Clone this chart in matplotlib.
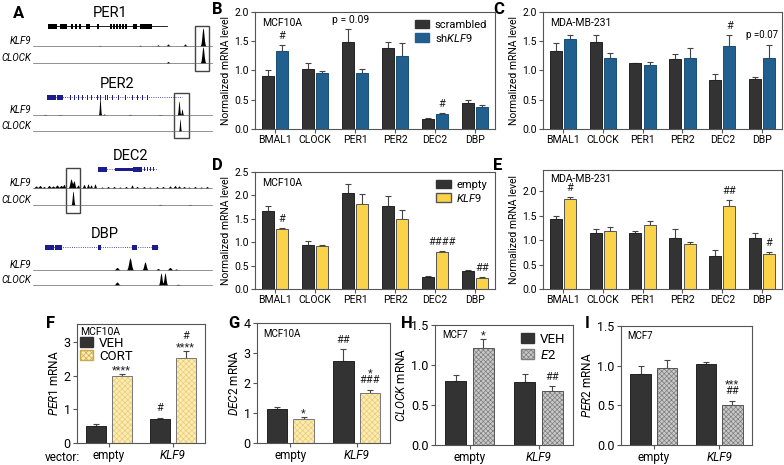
#!/usr/bin/python
# KLF9 / clock gene figure: ChIP tracks + qPCR bar panels

import matplotlib
matplotlib.use('Agg')
import matplotlib.pyplot as plt
from matplotlib.patches import Patch, Rectangle
import numpy as np

plt.rcParams['font.family'] = ['Roboto', 'DejaVu Sans']
plt.rcParams['mathtext.fontset'] = 'custom'
plt.rcParams['mathtext.rm'] = 'Roboto'
plt.rcParams['mathtext.it'] = 'Roboto:italic'
plt.rcParams['hatch.linewidth'] = 0.5

# ---------------------------------------------------------
# data
genes = ['BMAL1', 'CLOCK', 'PER1', 'PER2', 'DEC2', 'DBP']

# B: MCF10A scrambled vs shKLF9
b_scr = [0.91, 1.02, 1.48, 1.39, 0.17, 0.44]
b_scr_err = [0.09, 0.10, 0.23, 0.09, 0.02, 0.06]
b_sh = [1.34, 0.95, 0.95, 1.25, 0.25, 0.37]
b_sh_err = [0.09, 0.04, 0.08, 0.22, 0.02, 0.04]
b_marks = ['#', '', '', '', '#', '']

# C: MDA-MB-231 scrambled vs shKLF9
c_scr = [1.34, 1.48, 1.12, 1.20, 0.83, 0.85]
c_scr_err = [0.13, 0.12, 0.01, 0.09, 0.11, 0.04]
c_sh = [1.53, 1.22, 1.10, 1.22, 1.42, 1.22]
c_sh_err = [0.08, 0.08, 0.04, 0.17, 0.19, 0.21]
c_marks = ['', '', '', '', '#', '']

# D: MCF10A empty vs KLF9
d_emp = [1.66, 0.94, 2.05, 1.78, 0.26, 0.38]
d_emp_err = [0.11, 0.09, 0.19, 0.20, 0.02, 0.02]
d_klf = [1.28, 0.91, 1.82, 1.49, 0.78, 0.23]
d_klf_err = [0.02, 0.02, 0.22, 0.19, 0.03, 0.02]
d_marks = ['#', '', '', '', '####', '##']

# E: MDA-MB-231 empty vs KLF9
e_emp = [1.42, 1.15, 1.14, 1.05, 0.68, 1.05]
e_emp_err = [0.08, 0.08, 0.05, 0.17, 0.12, 0.09]
e_klf = [1.83, 1.18, 1.31, 0.91, 1.70, 0.71]
e_klf_err = [0.04, 0.09, 0.08, 0.05, 0.12, 0.05]
e_marks = ['#', '', '', '', '##', '#']

vectors = ['empty', 'KLF9']

# F: PER1 mRNA, VEH vs CORT
f_veh = [0.50, 0.72]
f_veh_err = [0.08, 0.04]
f_cort = [2.00, 2.55]
f_cort_err = [0.05, 0.20]
f_veh_marks = ['', '#']
f_cort_marks = ['****', '#\n****']

# G: DEC2 mRNA, VEH vs CORT
g_veh = [1.13, 2.73]
g_veh_err = [0.07, 0.40]
g_cort = [0.80, 1.68]
g_cort_err = [0.06, 0.10]
g_veh_marks = ['', '##']
g_cort_marks = ['*', '*\n###']

# H: CLOCK mRNA, VEH vs E2
h_veh = [0.80, 0.79]
h_veh_err = [0.07, 0.10]
h_e2 = [1.21, 0.68]
h_e2_err = [0.12, 0.06]
h_veh_marks = ['', '']
h_e2_marks = ['*', '##']

# I: PER2 mRNA, VEH vs E2
i_veh = [0.90, 1.02]
i_veh_err = [0.09, 0.03]
i_e2 = [0.97, 0.50]
i_e2_err = [0.10, 0.06]
i_veh_marks = ['', '']
i_e2_marks = ['', '***\n##']

# A: genome tracks (track units along the locus)
track_start, track_end = 33, 212
per1_exons = [(60, 67), (71, 73), (75, 77), (79, 81), (86, 90), (97, 99), (110, 112), (113, 115), (116, 118),
              (119, 121), (122, 124), (125, 127), (133, 137), (140, 152)]
per1_span = (48, 167)
per1_klf9 = [(100, 0.6, 1), (140, 0.8, 1), (158, 1.2, 1), (168, 2.0, 1.2), (185, 2.0, 1.2), (203, 18, 1.4)]
per1_clock = [(168, 1.5, 1.2), (203, 16, 1.4)]

per2_exons = [(57, 63), (70, 71), (74, 75), (78, 79), (82, 83), (87, 88), (91, 92), (97, 98), (100, 101),
              (105, 106), (107, 108), (112, 113), (118, 119), (125, 126), (132, 133), (137, 138), (142, 143), (147, 148)]
per2_span = (47, 182)
per2_klf9 = [(45, 0.6, 1.5), (60, 0.5, 1.5), (100, 17, 0.8), (104, 1.0, 1), (130, 0.6, 1.5), (160, 0.5, 1.5),
             (179, 14, 0.9), (182, 6, 0.8)]
per2_clock = [(180, 12, 0.7)]

dec2_exons = [(115, 133, 3), (133, 142, 5), (144, 145, 4), (147, 148, 4), (150, 151, 4), (153, 154, 4)]
dec2_span = (98, 157)
dec2_klf9 = [(36, 2.0, 1.5), (40, 2.5, 1.5), (44, 1.5, 1.2), (49, 2.5, 1.5), (53, 2.0, 1.5), (57, 3.0, 1.5),
             (61, 2.5, 1.5), (64, 3.5, 1.2), (71, 9.0, 1.5), (74, 7.0, 1.2), (78, 3.0, 1.2), (84, 3.5, 1.2),
             (88, 4.0, 1.0), (91, 3.0, 1.0), (95, 4.0, 1.0), (102, 1.0, 1.2), (108, 1.5, 1.2), (114, 1.5, 1.2),
             (120, 1.0, 1.2), (126, 1.5, 1.2), (132, 3.0, 1.0), (137, 1.5, 1.2), (144, 1.5, 1.2), (150, 1.0, 1.2),
             (157, 1.5, 1.2), (163, 1.5, 1.2), (170, 2.0, 1.2), (175, 2.5, 1.2), (179, 2.0, 1.2), (184, 1.5, 1.2),
             (189, 1.0, 1.2), (195, 1.5, 1.2), (201, 1.0, 1.2), (207, 1.5, 1.2)]
dec2_clock = [(73, 14, 1.0), (160, 0.6, 1.5), (190, 0.6, 1.5)]

dbp_exons = [(55, 62), (98, 101), (132, 137), (152, 158)]
dbp_span = (45, 158)
dbp_klf9 = [(117, 2.5, 1.8), (130, 12, 1.8), (145, 8, 1.6), (158, 1.5, 1.5), (170, 2.5, 1.8), (176, 1.0, 1.5)]
dbp_clock = [(117, 3.0, 1.8), (161, 12, 1.3), (165, 12, 1.3), (178, 0.8, 1.5)]

# ---------------------------------------------------------
dark = '#333333'
blue = '#205f8e'
yellow = '#fbd349'
pale = '#fcecb4'
pale_hatch = '#e9cb74'
gray = '#c9c9c9'
gray_hatch = '#7d7d7d'
ink = '#444444'

W, H = 784, 465
fig = plt.figure(figsize=(W / 100, H / 100), dpi=100)


def px_axes(l, t, r, b):
    return fig.add_axes([l / W, 1 - b / H, (r - l) / W, (b - t) / H])


def letter(x, y, s):
    fig.text(x / W, 1 - y / H, s, fontsize=12, fontweight='bold', va='top', ha='left')


def style(ax, ylim, yticks, fmt, labelsize=7.5):
    ax.set_ylim(ylim)
    ax.set_yticks(yticks)
    ax.set_yticklabels([fmt % t for t in yticks])
    for s in ax.spines.values():
        s.set_color('#555555')
        s.set_linewidth(0.8)
    ax.tick_params(direction='out', length=3, width=0.8, color='#555555', labelsize=labelsize, pad=1.5)


def bars(ax, v1, e1, v2, e2, st1, st2, off, width):
    x = np.arange(len(v1))
    for xs, v, e, st in ((x - off, v1, e1, st1), (x + off, v2, e2, st2)):
        ax.errorbar(xs, v, yerr=[np.zeros(len(v)), e], fmt='none', ecolor=ink, elinewidth=0.8,
                    capsize=2.5, capthick=0.8, zorder=1)
        if 'hatch' in st:
            ax.bar(xs, v, width, color=st['face'], edgecolor=st['hc'], hatch=st['hatch'], linewidth=0, zorder=2)
            ax.bar(xs, v, width, fill=False, edgecolor=st['edge'], linewidth=0.7, zorder=3)
        else:
            ax.bar(xs, v, width, color=st['face'], edgecolor=st['edge'], linewidth=0.7, zorder=2)
    ax.set_xlim(-0.5, len(v1) - 0.5)
    ax.set_xticks(x)


def marks(ax, xs, v, e, labels, size=8):
    # significance symbols above the error bar (one text, lines stacked)
    for xi, vi, ei, lab in zip(xs, v, e, labels):
        if not lab:
            continue
        lines = lab.split('\n')
        low_star = lines[-1].startswith('*')
        base = -1.0 if low_star else 3.0
        ls = 1.0
        if len(lines) > 1:
            step = 8.0 + (2.5 if low_star else 0) - (2.5 if lines[0].startswith('*') else 0)
            ls = step / (1.09 * size)
        ax.annotate(lab, (xi, vi + ei), xytext=(0, base), textcoords='offset points',
                    ha='center', va='bottom', fontsize=size, linespacing=ls, color='#222222')


s_dark = {'face': dark, 'edge': '#222222'}
s_blue = {'face': blue, 'edge': '#1a4e75'}
s_yel = {'face': yellow, 'edge': '#555555'}
s_pale = {'face': pale, 'hc': pale_hatch, 'hatch': 'xxxxxx', 'edge': '#777777'}
s_gray = {'face': gray, 'hc': gray_hatch, 'hatch': 'xxxxxxx', 'edge': '#555555'}

# ---------------------------------------------------------
# A: genome browser tracks
axA = px_axes(0, 0, 215, 300)
axA.set_xlim(0, 215)
axA.set_ylim(300, 0)
axA.axis('off')
xs = np.linspace(track_start, track_end, 900)


def signal(peaks):
    sig = np.zeros_like(xs)
    for p, h, w in peaks:
        sig += h * np.exp(-((xs - p) / w) ** 2)
    return sig


def track(y, name, peaks):
    axA.plot([track_start, track_end], [y, y], color='#666666', lw=0.5)
    axA.fill_between(xs, y, y - signal(peaks), color='black', lw=0)
    axA.text(31, y, name, ha='right', va='bottom', fontsize=7, style='italic')


def gene(y, name, span, exons, color, dotted):
    axA.text((span[0] + span[1]) / 2 + 3, y - 6, name, ha='center', va='bottom', fontsize=10.5)
    axA.plot(span, [y, y], color=color, lw=0.6, ls=':' if dotted else '-')
    axA.add_patch(Rectangle((span[0], y - 2.5), 9, 5, color=color, lw=0))
    for ex in exons:
        h = ex[2] if len(ex) > 2 else 5
        axA.add_patch(Rectangle((ex[0], y - h / 2), ex[1] - ex[0], h, color=color, lw=0))


gene(26, 'PER1', per1_span, per1_exons, 'black', False)
track(46, 'KLF9', per1_klf9)
track(63, 'CLOCK', per1_clock)
axA.add_patch(Rectangle((195, 26), 14, 45, fill=False, ec='#444444', lw=1))

gene(97, 'PER2', per2_span, per2_exons, '#1c1c8c', True)
track(115, 'KLF9', per2_klf9)
track(131, 'CLOCK', per2_clock)
axA.add_patch(Rectangle((174, 93), 15, 45, fill=False, ec='#444444', lw=1))

gene(169, 'DEC2', dec2_span, dec2_exons, '#1c1c8c', True)
track(188, 'KLF9', dec2_klf9)
track(205, 'CLOCK', dec2_clock)
axA.add_patch(Rectangle((66, 168), 14, 45, fill=False, ec='#444444', lw=1))

gene(247, 'DBP', dbp_span, dbp_exons, '#1c1c8c', True)
track(270, 'KLF9', dbp_klf9)
track(285, 'CLOCK', dbp_clock)

# ---------------------------------------------------------
# B-E: grouped panels
x6 = np.arange(len(genes))
off6, w6 = 0.18, 0.30

axB = px_axes(255, 12, 495, 129)
bars(axB, b_scr, b_scr_err, b_sh, b_sh_err, s_dark, s_blue, off6, w6)
style(axB, (0, 2.0), [0, 0.5, 1.0, 1.5, 2.0], '%.1f')
marks(axB, x6 + off6, b_sh, b_sh_err, b_marks)
axB.text(2 - 0.12, 1.77, 'p = 0.09', ha='center', va='bottom', fontsize=7.5)
axB.text(0.03, 0.95, 'MCF10A', transform=axB.transAxes, ha='left', va='top', fontsize=7.5)
axB.legend([Patch(facecolor=dark, edgecolor=dark), Patch(facecolor=blue, edgecolor=blue)],
           ['scrambled', r'sh$\mathit{KLF9}$'], loc='upper right', frameon=False, fontsize=8,
           handlelength=1.3, handleheight=0.8, labelspacing=0.15, handletextpad=0.5, borderaxespad=0.3)

axC = px_axes(543, 12, 782, 129)
bars(axC, c_scr, c_scr_err, c_sh, c_sh_err, s_dark, s_blue, off6, w6)
style(axC, (0, 2.0), [0, 0.5, 1.0, 1.5, 2.0], '%.1f')
marks(axC, x6 + off6, c_sh, c_sh_err, c_marks)
axC.text(5.0, 1.52, 'p =0.07', ha='center', va='bottom', fontsize=7)
axC.text(0.03, 0.95, 'MDA-MB-231', transform=axC.transAxes, ha='left', va='top', fontsize=7.5)

axD = px_axes(255, 172, 495, 289)
bars(axD, d_emp, d_emp_err, d_klf, d_klf_err, s_dark, s_yel, off6, w6)
style(axD, (0, 2.5), [0, 0.5, 1.0, 1.5, 2.0, 2.5], '%.1f')
marks(axD, x6 + off6, d_klf, d_klf_err, d_marks)
axD.text(0.03, 0.95, 'MCF10A', transform=axD.transAxes, ha='left', va='top', fontsize=7.5)
axD.legend([Patch(facecolor=dark, edgecolor=dark), Patch(facecolor=yellow, edgecolor='#555555')],
           ['empty', r'$\mathit{KLF9}$'], loc='upper right', frameon=False, fontsize=8,
           handlelength=1.3, handleheight=0.8, labelspacing=0.15, handletextpad=0.5, borderaxespad=0.3)

axE = px_axes(543, 170, 782, 289)
bars(axE, e_emp, e_emp_err, e_klf, e_klf_err, s_dark, s_yel, off6, w6)
style(axE, (0, 2.43), [0, 0.5, 1.0, 1.5, 2.0], '%.1f')
marks(axE, x6 + off6, e_klf, e_klf_err, e_marks)
axE.text(0.03, 0.97, 'MDA-MB-231', transform=axE.transAxes, ha='left', va='top', fontsize=7.5)

for ax in (axB, axC, axD, axE):
    ax.set_xticklabels(genes, fontsize=7.5)
    ax.set_ylabel('Normalized mRNA level', fontsize=7.5, labelpad=2)

# ---------------------------------------------------------
# F-I: two-group panels
x2 = np.arange(len(vectors))
off2, w2 = 0.2, 0.31

axF = px_axes(77, 324, 205, 443)
bars(axF, f_veh, f_veh_err, f_cort, f_cort_err, s_dark, s_pale, off2, w2)
style(axF, (0, 3.55), [0, 1, 2, 3], '%d', 9)
marks(axF, x2 - off2, f_veh, f_veh_err, f_veh_marks)
marks(axF, x2 + off2, f_cort, f_cort_err, f_cort_marks)
axF.set_ylabel(r'$\mathit{PER1}$ mRNA', fontsize=8.5, labelpad=2)
axF.legend([Patch(facecolor=dark, edgecolor=dark),
            Patch(facecolor=pale, edgecolor='#c9a94a', hatch='xxxxxx')],
           ['VEH', 'CORT'], title='MCF10A', title_fontsize=7.5, alignment='left', loc='upper left',
           frameon=False, fontsize=9.5, handlelength=1.05, handleheight=0.7, labelspacing=0.0,
           handletextpad=0.4, borderaxespad=0.1, borderpad=0.1)

axG = px_axes(257, 323, 390, 443)
bars(axG, g_veh, g_veh_err, g_cort, g_cort_err, s_dark, s_pale, off2, w2)
style(axG, (0, 4), [0, 1, 2, 3, 4], '%d', 9)
marks(axG, x2 - off2, g_veh, g_veh_err, g_veh_marks)
marks(axG, x2 + off2, g_cort, g_cort_err, g_cort_marks)
axG.set_ylabel(r'$\mathit{DEC2}$ mRNA', fontsize=8.5, labelpad=2)
axG.text(0.05, 0.95, 'MCF10A', transform=axG.transAxes, ha='left', va='top', fontsize=7)

axH = px_axes(435, 325, 573, 445)
bars(axH, h_veh, h_veh_err, h_e2, h_e2_err, s_dark, s_gray, off2, w2)
style(axH, (0, 1.5), [0, 0.5, 1.0, 1.5], '%.1f', 9)
marks(axH, x2 + off2, h_e2, h_e2_err, h_e2_marks)
axH.set_ylabel(r'$\mathit{CLOCK}$ mRNA', fontsize=8.5, labelpad=2)
axH.text(0.05, 0.96, 'MCF7', transform=axH.transAxes, ha='left', va='top', fontsize=7)
axH.legend([Patch(facecolor=dark, edgecolor=dark),
            Patch(facecolor=gray, edgecolor=gray_hatch, hatch='xxxxxxx')],
           ['VEH', r'$\mathit{E2}$'], loc='upper right', frameon=False, fontsize=9.5,
           handlelength=1.0, handleheight=0.75, labelspacing=0.2, handletextpad=0.4, borderaxespad=0.2)

axI = px_axes(621, 326, 752, 445)
bars(axI, i_veh, i_veh_err, i_e2, i_e2_err, s_dark, s_gray, off2, w2)
style(axI, (0, 1.5), [0, 0.5, 1.0, 1.5], '%.1f', 9)
marks(axI, x2 + off2, i_e2, i_e2_err, i_e2_marks)
axI.set_ylabel(r'$\mathit{PER2}$ mRNA', fontsize=8.5, labelpad=2)
axI.text(0.05, 0.96, 'MCF7', transform=axI.transAxes, ha='left', va='top', fontsize=7)

for ax in (axF, axG, axH, axI):
    ax.set_xticklabels(vectors, fontsize=8.5)
    ax.get_xticklabels()[1].set_style('italic')

fig.text(45 / W, 1 - 457 / H, 'vector:', fontsize=8.5, va='center', ha='left')

# panel letters
letter(13, 6, 'A')
letter(212, 2, 'B')
letter(493, 2, 'C')
letter(212, 158, 'D')
letter(493, 158, 'E')
letter(46, 316, 'F')
letter(228, 316, 'G')
letter(401, 316, 'H')
letter(585, 316, 'I')

fig.savefig('out.png', dpi=100)
